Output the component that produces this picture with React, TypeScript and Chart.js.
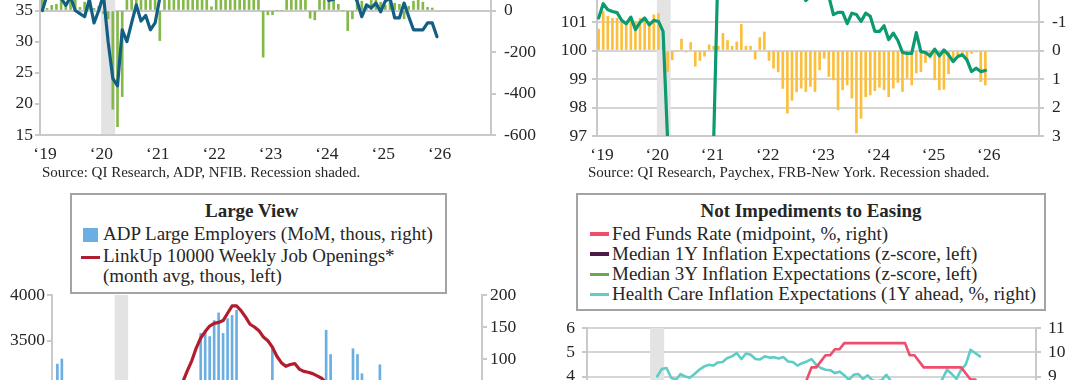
import React, { useEffect, useRef } from 'react';
import { Chart, registerables } from 'chart.js';

Chart.register(...registerables);

// ---------------- shared axis data ----------------
const X_TICK_LABELS = ['‘19', '‘20', '‘21', '‘22', '‘23', '‘24', '‘25', '‘26'];
const X_TICK_MONTHS = [0, 12, 24, 36, 48, 60, 72, 84]; // months since Jan 2019
const RECESSION = [13, 16]; // Feb 2020 .. end of Apr 2020 (month index)

// ---------------- top-left: NFIB (left) & ADP (right) ----------------
const TL_NFIB = [
  35.0, 37.5, 38.0, 37.5, 37.0, 35.8, 37.2, 35.0, 34.5, 34.0, 36.8, 33.0,
  35.0, 37.5, 30.0, 24.1, 22.9, 31.9, 30.0, 33.0, 35.9, 33.3, 34.2, 31.9,
  33.0, 37.0, 42.0, 44.0, 48.0, 46.0, 49.0, 50.0, 51.0, 49.0, 48.0, 49.0,
  47.0, 47.0, 47.0, 49.0, 51.0, 50.0, 49.0, 49.0, 46.0, 46.0, 44.0, 45.0,
  45.0, 47.0, 43.0, 45.0, 46.0, 42.0, 42.0, 40.0, 43.0, 43.0, 41.0, 40.0,
  38.0, 36.6, 36.8, 38.0, 39.0, 38.0, 38.0, 36.5, 34.0, 35.9, 35.4, 36.2,
  34.8, 36.5, 37.0, 33.8, 33.8, 36.2, 34.0, 31.9, 31.9, 31.9, 33.0, 33.0,
  30.8,
];
const TL_ADP = [
  60, 10, 25, 30, 70, 20, 45, 55, 15, 40, 30, 10,
  20, -15, -40, -476, -560, -415, 150, 180, 120, 90, 110, 80,
  60, -145, 120, 150, 110, 130, 140, 120, 100, 130, 140, 100,
  18, 90, 120, 110, 130, 100, 90, 80, 100, 70, 60, -225,
  -21, -20, 0, 0, 80, 70, 90, 60, 70, -37, -45, 60,
  80, 70, 90, 30, 0, -97, -40, 60, 45, 30, 55, 70,
  40, 25, 60, 35, 30, -40, 20, 45, 60, 40, 15, 12,
];
const TL_LEFT = [15, 55, 5];
const TL_RIGHT = [-600, 600, 200];
const TL_SOURCE = 'Source: QI Research, ADP, NFIB. Recession shaded.';

// ---------------- top-right: Paychex (left) & FRB-NY (right, inverted) ----------------
const TR_PAYCHEX = [
  101.14, 101.64, 101.43, 101.37, 101.33, 101.06, 100.94, 101.17, 100.73, 100.99, 101.14, 100.9,
  101.06, 101.02, 100.67, 96.8, 95.5, 95.0, 95.2, 95.5, 95.8, 96.0, 96.2, 96.3,
  96.5, 96.9, 103.4, 103.5, 103.2, 103.0, 102.8, 102.9, 102.7, 102.6, 102.5, 102.4,
  102.3, 102.4, 102.2, 102.1, 102.0, 102.2, 102.0, 101.95, 102.1, 101.75, 101.9, 102.2,
  102.1, 102.0, 101.9, 101.26, 101.34, 101.34, 100.94, 101.31, 101.26, 101.02, 101.31, 101.2,
  100.67, 100.67, 100.87, 100.38, 100.61, 100.35, 99.93, 99.9, 99.9, 100.63, 99.96, 99.93,
  99.81, 100.05, 99.81, 100.02, 99.85, 99.61, 99.79, 99.85, 99.67, 99.26, 99.38, 99.26,
  99.3,
];
const TR_NYFED = [
  -0.75, -1.37, -1.2, -1.13, -1.13, -1.02, -0.96, -1.08, -1.02, -1.13, -1.08, -0.94,
  -1.25, -1.29, -0.2, 0.74, 0.33, 0, -0.4, 0.05, -0.28, 0.55, 0.35, 0.2,
  -0.2, -0.15, -0.15, -0.6, -0.35, -0.15, -0.3, -0.92, -0.15, -0.15, 0.3, -0.45,
  -0.65, 0.35, 0.62, 0.75, 1.33, 2.2, 1.75, 1.45, 1.32, 1.44, 1.26, 1.44,
  0.68, 0.27, 0.91, 1.03, 2.08, 1.38, 1.21, 1.67, 2.9, 2.38, 1.62, 1.56,
  1.41, 1.29, 1.38, 1.62, 1.32, 1.12, 1.44, 0.97, 1.21, 0.79, 0.74, 0.42,
  0.27, 1.03, 1.38, 1.36, 0.82, 0.27, 0.15, 0.21, 0.39, 0.1, 0.05, 1.09,
  1.21,
];
const TR_LEFT = [97, 103, 1];
const TR_RIGHT = [-3, 3, 1];
const TR_SOURCE = 'Source: QI Research, Paychex, FRB-New York. Recession shaded.';

// ---------------- bottom-left: Large View ----------------
const BL_ADP_LARGE = [
  92, 100, 30, 45, 20, 35, 40, 25, 30, 20, 45, 35,
  40, 30, -150, -280, -250, 60, 40, 30, 25, 35, 20, 15,
  30, 25, 40, 50, 45, 55, 60, 65, 140, 142, 135, 160,
  172, 140, 163, 168, 176, 60, 50, 55, 40, 45, 30, 35,
  120, 40, 35, 25, 30, 45, 20, 25, 15, 30, 20, 25,
  145, 107, 30, 25, 35, 20, 116, 107, 77, 20, 15, 30,
  91, 20, 10, 25, -10, 15, 20, -20, 10, 15, -5, 20,
];
const BL_LINKUP = [
  2900, 2880, 2870, 2890, 2860, 2850, 2870, 2860, 2840, 2820, 2790, 2760,
  2750, 2740, 2600, 2150, 2050, 2120, 2200, 2280, 2350, 2400, 2420, 2450,
  2500, 2600, 2750, 2900, 3050, 3170, 3280, 3420, 3530, 3600, 3660, 3690,
  3700, 3720, 3800, 3880, 3880, 3830, 3760, 3680, 3650, 3610, 3540, 3500,
  3430, 3330, 3260, 3220, 3240, 3250, 3190, 3165, 3155, 3140, 3115, 3090,
  3040, 2990, 2950, 2920, 2900, 2880, 2860, 2850, 2820, 2800, 2790, 2770,
  2760, 2740, 2720, 2700, 2690, 2670, 2650, 2640, 2620, 2600, 2590, 2570,
];
const BL_LEFT = [500, 4000, 500];
const BL_RIGHT = [-300, 200, 50];
const BL_TITLE = 'Large View';
const BL_LABELS = ['ADP Large Employers (MoM, thous, right)', 'LinkUp 10000 Weekly Job Openings*', '(month avg, thous, left)'];

// ---------------- bottom-right: Not Impediments to Easing ----------------
const BR_FED_FUNDS = [
  2.375, 2.375, 2.375, 2.375, 2.375, 2.375, 2.375, 2.125, 2.125, 1.875, 1.625, 1.625,
  1.625, 1.625, 0.125, 0.125, 0.125, 0.125, 0.125, 0.125, 0.125, 0.125, 0.125, 0.125,
  0.125, 0.125, 0.125, 0.125, 0.125, 0.125, 0.125, 0.125, 0.125, 0.125, 0.125, 0.125,
  0.125, 0.125, 0.375, 0.375, 0.875, 1.625, 2.375, 2.375, 3.125, 3.125, 3.875, 4.375,
  4.375, 4.625, 4.875, 4.875, 5.125, 5.125, 5.375, 5.375, 5.375, 5.375, 5.375, 5.375,
  5.375, 5.375, 5.375, 5.375, 5.375, 5.375, 5.375, 5.375, 4.875, 4.875, 4.625, 4.375,
  4.375, 4.375, 4.375, 4.375, 4.375, 4.375, 4.375, 4.375, 4.125, 3.875, 3.875, 3.625,
  3.625,
];
const BR_MEDIAN_1Y = [
  0.1, 0.0, -0.1, 0.0, -0.2, -0.3, -0.2, -0.3, -0.4, -0.3, -0.4, -0.4,
  -0.4, -0.3, -0.5, -0.2, 0.1, 0.2, 0.0, -0.1, 0.0, 0.1, 0.0, 0.1,
  0.2, 0.3, 0.5, 0.8, 1.5, 2.0, 2.3, 2.5, 2.6, 2.8, 3.0, 3.1,
  3.2, 3.3, 3.5, 3.4, 3.3, 3.5, 3.0, 2.5, 2.3, 2.5, 2.4, 2.1,
  2.0, 1.6, 1.9, 1.7, 1.4, 1.2, 0.8, 0.9, 0.9, 0.7, 0.5, 0.3,
  0.1, 0.2, 0.1, 0.4, 0.5, 0.2, 0.0, -0.1, -0.2, -0.1, 0.0, 0.1,
  0.0, 0.2, 0.4, 0.9, 0.6, 0.3, 0.3, 0.4, 0.5, 0.4, 0.5, 0.3,
  0.3,
];
const BR_MEDIAN_3Y = [
  0.0, -0.1, -0.1, -0.2, -0.3, -0.3, -0.4, -0.4, -0.5, -0.4, -0.5, -0.5,
  -0.5, -0.5, -0.6, -0.4, -0.3, -0.2, -0.2, -0.3, -0.2, -0.1, -0.1, 0.0,
  0.1, 0.2, 0.3, 0.4, 0.6, 0.9, 1.1, 1.3, 1.4, 1.5, 1.6, 1.5,
  1.4, 1.2, 1.5, 1.4, 1.3, 1.0, 0.6, 0.4, 0.5, 0.6, 0.5, 0.3,
  0.4, 0.3, 0.5, 0.4, 0.3, 0.2, 0.1, 0.4, 0.3, 0.2, 0.1, 0.0,
  -0.1, 0.0, -0.1, 0.3, 0.2, 0.0, -0.2, -0.3, -0.1, -0.2, -0.1, 0.0,
  -0.1, -0.1, 0.0, 0.2, 0.1, 0.0, 0.1, 0.0, 0.1, 0.1, 0.2, 0.1,
  0.1,
];
const BR_HEALTH_START = 14; // Mar 2020
const BR_HEALTH = [
  9.0, 9.31, 9.35, 8.95, 8.86, 9.1, 9.0, 8.95, 9.1, 9.28,
  9.41, 9.48, 9.45, 9.58, 9.6, 9.76, 9.83, 9.97, 9.72, 9.95, 9.9, 9.72,
  9.7, 9.83, 9.78, 9.79, 9.74, 9.8, 9.62, 9.6, 9.45, 9.55, 9.62, 9.72,
  9.48, 9.35, 9.28, 9.26, 9.14, 9.2, 9.05, 8.86, 9.07, 9.1, 8.9, 9.05,
  8.85, 8.8, 8.85, 9.07, 8.8, 8.7, 8.6, 8.7, 8.6, 8.5, 8.6, 8.7,
  8.6, 8.5, 8.6, 8.9, 9.28, 9.1, 8.9, 9.28, 9.5, 10.1, 9.97, 9.83,
];
const BR_LEFT = [-2, 6, 1];
const BR_RIGHT = [3, 11, 1];
const BR_TITLE = 'Not Impediments to Easing';
const BR_LABELS = [
  'Fed Funds Rate (midpoint, %, right)',
  'Median 1Y Inflation Expectations (z-score, left)',
  'Median 3Y Inflation Expectations (z-score, left)',
  'Health Care Inflation Expectations (1Y ahead, %, right)',
];

// ---------------- styles ----------------
const FONT = '"Liberation Serif", "Times New Roman", Times, serif';
const TEXT = '#262626';
const AXIS = '#c9c9c9';
const GRID = '#d5d5d5';
const SHADE = '#e3e3e3';
const TICK_SIZE = 17.5;
const C_BLUE = '#135f84';
const C_LGREEN = '#84b94a';
const C_TEAL_GREEN = '#0c9a70';
const C_GOLD = '#fbbf3c';
const C_LBLUE = '#6aaee2';
const C_RED = '#b31c2d';
const C_PINK = '#f04c6c';
const C_PURPLE = '#4b1a48';
const C_GREEN3 = '#6aa84f';
const C_CYAN = '#5fcdc5';

Chart.defaults.font.family = FONT;

const recessionPlugin = {
  id: 'recession',
  beforeDatasetsDraw(chart: any) {
    const { ctx, chartArea, scales } = chart;
    const a = scales.x.getPixelForValue(RECESSION[0]);
    const b = scales.x.getPixelForValue(RECESSION[1]);
    ctx.save();
    ctx.fillStyle = SHADE;
    ctx.fillRect(a, chartArea.top, b - a, chartArea.bottom - chartArea.top - 1);
    ctx.restore();
  },
};

function pts(values: number[], start: number, shift: number) {
  return values.map((v, i) => ({ x: start + i + shift, y: v }));
}

function noPad(s: any) {
  s.paddingTop = 0;
  s.paddingBottom = 0;
  s.paddingLeft = 0;
  s.paddingRight = 0;
}

function xAxis(min: number, max: number) {
  return {
    type: 'linear',
    position: 'bottom',
    min,
    max,
    offset: false,
    afterFit: (s: any) => { s.height = 40; noPad(s); },
    afterBuildTicks: (s: any) => { s.ticks = X_TICK_MONTHS.map((v) => ({ value: v })); },
    grid: { display: false, drawTicks: false },
    border: { display: true, color: AXIS, width: 2 },
    ticks: {
      autoSkip: false, maxRotation: 0, minRotation: 0, padding: 9, labelOffset: 5,
      color: TEXT, font: { family: FONT, size: TICK_SIZE },
      callback: (_v: any, i: number) => X_TICK_LABELS[i],
    },
  };
}

function yAxis(position: string, range: number[], width: number, padding: number, onArea: boolean, extra: any = {}) {
  return {
    type: 'linear',
    position,
    min: range[0],
    max: range[1],
    reverse: !!extra.reverse,
    afterFit: (s: any) => { s.width = width; noPad(s); },
    ticks: {
      stepSize: range[2], padding, autoSkip: false, color: TEXT,
      font: { family: FONT, size: TICK_SIZE },
      callback: (v: any) => String(v),
    },
    grid: {
      drawOnChartArea: onArea, drawTicks: true, tickLength: 5, lineWidth: 2,
      color: extra.gridColor || GRID, tickColor: extra.tickColor || AXIS,
    },
    border: { display: true, color: AXIS, width: 2 },
  };
}

function baseOptions(scales: any, padTop: number) {
  return {
    responsive: false,
    animation: false,
    devicePixelRatio: 1,
    events: [],
    layout: { padding: { top: padTop, left: 0, right: 0, bottom: 0 }, autoPadding: false },
    plugins: { legend: { display: false }, tooltip: { enabled: false } },
    scales,
  };
}

const lineDs = (label: string, data: any[], yAxisID: string, color: string, width: number, order: number) => ({
  type: 'line', label, data, yAxisID, borderColor: color, borderWidth: width,
  pointRadius: 0, tension: 0, borderJoinStyle: 'round', borderCapStyle: 'round', order,
});
const barDs = (label: string, data: any[], yAxisID: string, color: string, order: number) => ({
  type: 'bar', label, data, yAxisID, backgroundColor: color, barThickness: 2, grouped: false, order,
});

const makeTL = () => ({
  type: 'line',
  data: {
    datasets: [
      lineDs('NFIB', pts(TL_NFIB, 0, 0.5), 'yL', C_BLUE, 3.2, 0),
      barDs('ADP', pts(TL_ADP, 0, 0.5), 'yR', C_LGREEN, 1),
    ],
  },
  options: baseOptions({
    x: xAxis(0, 96),
    yL: yAxis('left', TL_LEFT, 40, 2, false),
    yR: yAxis('right', TL_RIGHT, 49, 8, true, {
      gridColor: (c: any) => (c.tick && c.tick.value === 0 ? AXIS : 'rgba(0,0,0,0)'),
    }),
  }, 0),
  plugins: [recessionPlugin],
});

const makeTR = () => ({
  type: 'line',
  data: {
    datasets: [
      lineDs('Paychex', pts(TR_PAYCHEX, 0, 0.35), 'yL', C_TEAL_GREEN, 3.2, 0),
      barDs('FRB-NY', pts(TR_NYFED, 0, 0.35), 'yR', C_GOLD, 1),
    ],
  },
  options: baseOptions({
    x: xAxis(0, 96),
    yL: yAxis('left', TR_LEFT, 57, 5, true),
    yR: yAxis('right', TR_RIGHT, 41, 8, false, { reverse: true }),
  }, 0),
  plugins: [recessionPlugin],
});

const makeBL = () => ({
  type: 'line',
  data: {
    datasets: [
      lineDs(BL_LABELS[1], pts(BL_LINKUP, 0, 0.2), 'yL', C_RED, 3.2, 0),
      barDs(BL_LABELS[0], pts(BL_ADP_LARGE, 0, 0.2), 'yR', C_LBLUE, 1),
    ],
  },
  options: baseOptions({
    x: xAxis(-1, 95),
    yL: yAxis('left', BL_LEFT, 52, 2, false),
    yR: yAxis('right', BL_RIGHT, 58, 3, false),
  }, 20),
  plugins: [recessionPlugin],
});

const makeBR = () => ({
  type: 'line',
  data: {
    datasets: [
      lineDs(BR_LABELS[0], pts(BR_FED_FUNDS, 0, 0.5), 'yL', C_PINK, 2.6, 0),
      lineDs(BR_LABELS[1], pts(BR_MEDIAN_1Y, 0, 0.5), 'yL', C_PURPLE, 2.6, 1),
      lineDs(BR_LABELS[2], pts(BR_MEDIAN_3Y, 0, 0.5), 'yL', C_GREEN3, 2.6, 2),
      lineDs(BR_LABELS[3], pts(BR_HEALTH, BR_HEALTH_START, 0.5), 'yR', C_CYAN, 2.6, 3),
    ],
  },
  options: baseOptions({
    x: xAxis(-0.5, 95.5),
    yL: yAxis('left', BR_LEFT, 47, 7, true),
    yR: yAxis('right', BR_RIGHT, 44, 7, false),
  }, 20),
  plugins: [recessionPlugin],
});

function ChartCanvas({ left, top, width, height, make }: any) {
  const ref = useRef<HTMLCanvasElement | null>(null);
  useEffect(() => {
    const chart = new Chart(ref.current as any, make() as any);
    return () => chart.destroy();
  }, []);
  return (
    <canvas
      ref={ref}
      width={width}
      height={height}
      style={{ position: 'absolute', left, top, width, height }}
    />
  );
}

const abs = (left: number, top: number, extra: any = {}) => ({
  position: 'absolute' as const, left, top, whiteSpace: 'nowrap' as const, ...extra,
});
const legendText = { fontSize: 19, lineHeight: '22px' };
const sourceText = { fontSize: 15, lineHeight: '17px' };

export default function App() {
  return (
    <div
      style={{
        position: 'fixed', left: 0, top: 0, width: 1080, height: 380, overflow: 'hidden',
        background: '#ffffff', fontFamily: FONT, color: TEXT,
      }}
    >
      <ChartCanvas left={0} top={-114} width={540} height={289} make={makeTL} />
      <ChartCanvas left={540} top={-35} width={540} height={211} make={makeTR} />
      <ChartCanvas left={0} top={275} width={540} height={380} make={makeBL} />
      <ChartCanvas left={540} top={308} width={540} height={254} make={makeBR} />

      <div style={abs(42, 164, sourceText)}>{TL_SOURCE}</div>
      <div style={abs(588, 164, sourceText)}>{TR_SOURCE}</div>

      {/* Large View legend */}
      <div style={abs(70, 193, { width: 377, height: 101, border: '2px solid #a3a3a3', boxSizing: 'border-box', background: '#fff' })} />
      <div style={abs(205, 199.6, { ...legendText, fontWeight: 'bold' })}>{BL_TITLE}</div>
      <div style={abs(83, 227.5, { width: 15, height: 14, background: C_LBLUE })} />
      <div style={abs(103, 222.6, legendText)}>{BL_LABELS[0]}</div>
      <div style={abs(81, 255.8, { width: 19, height: 3.5, background: C_RED })} />
      <div style={abs(103, 244.9, legendText)}>{BL_LABELS[1]}</div>
      <div style={abs(103, 264.9, legendText)}>{BL_LABELS[2]}</div>

      {/* Not Impediments legend */}
      <div style={abs(576, 193, { width: 470, height: 118, border: '2px solid #a3a3a3', boxSizing: 'border-box', background: '#fff' })} />
      <div style={abs(576, 200.1, { ...legendText, fontWeight: 'bold', width: 470, textAlign: 'center' })}>{BR_TITLE}</div>
      {[C_PINK, C_PURPLE, C_GREEN3, C_CYAN].map((c, i) => (
        <React.Fragment key={i}>
          <div style={abs(590, 232.3 + i * 20.1, { width: 19, height: 3.5, background: c })} />
          <div style={abs(612, 222.6 + i * 20, legendText)}>{BR_LABELS[i]}</div>
        </React.Fragment>
      ))}
    </div>
  );
}
